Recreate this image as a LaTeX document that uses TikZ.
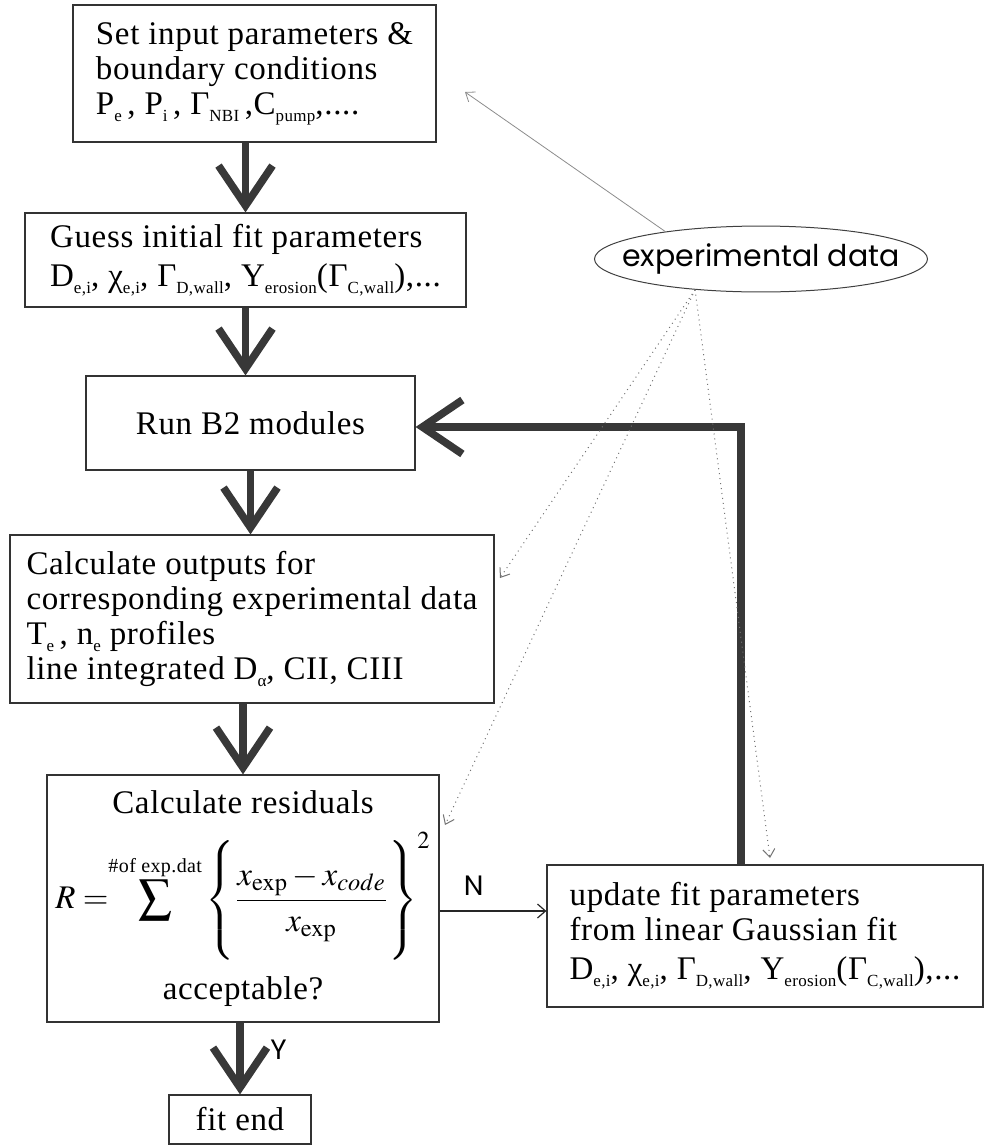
\documentclass[tikz,border=0pt]{standalone}
\usepackage{amsmath}
\usepackage{mathptmx}
\usepackage{fontspec}
\setmainfont{Liberation Serif}[LetterSpace=2]
\newfontfamily\gothic{Poppins}
\usetikzlibrary{shapes,arrows.meta}
\newcommand{\lowsub}[1]{\raisebox{-3.5pt}{\fontsize{8.5}{9}\selectfont #1}}

\begin{document}
\begin{tikzpicture}[x=0.5pt,y=0.5pt,yscale=-1,
    font=\fontsize{16.5}{17.5}\selectfont,
    box/.style={draw=black!80, line width=0.6pt, inner sep=0pt},
    flow/.style={draw=black!78, line width=3.8pt, line join=miter, -{Straight Barb[length=20pt,width=27pt]}},
    hint/.style={draw=black!55, line width=0.5pt, dotted, -{Straight Barb[length=4pt,width=6pt]}},
    tag/.style={font=\gothic\fontsize{14}{16}\selectfont}]
    \useasboundingbox (0,0) rectangle (985,1146);

    %Shape: Rectangle
    \node (input) [box, minimum width=181.5pt, minimum height=68.5pt, align=left] at (254.5,73.5)
        {Set input parameters \&\\ boundary conditions\\ P\lowsub{e}\,, P\lowsub{i}\,, Γ\lowsub{NBI}\,,C\lowsub{pump},....};

    %Shape: Rectangle
    \node (guess) [box, minimum width=220.5pt, minimum height=47pt, align=left] at (245.5,260)
        {Guess initial fit parameters\\[2pt] D\lowsub{e,i}, χ\lowsub{e,i}, Γ\lowsub{D,wall}, Y\lowsub{erosion}(Γ\lowsub{C,wall}),...};

    %Shape: Rectangle
    \node (run) [box, minimum width=164.5pt, minimum height=47pt] at (250.5,423) {Run B2 modules};

    %Shape: Rectangle
    \node (calc) [box, minimum width=242pt, minimum height=84pt, align=left] at (252,619)
        {Calculate outputs for\\ corresponding experimental data\\ T\lowsub{e}\,, n\lowsub{e} profiles\\ line integrated D\lowsub{α}, CII, CIII};

    %Shape: Rectangle
    \node (resid) [box, minimum width=196pt, minimum height=123.5pt, align=center] at (243,898.5)
        {Calculate residuals\\[8pt]
         $\displaystyle R=\!\!\sum\limits^{\text{\fontsize{10}{11}\selectfont\#of exp.dat}}\left\{\rule[-27pt]{0pt}{62pt}\frac{x_{\mathrm{exp}}-x_{code}}{x_{\mathrm{exp}}}\right\}^{2}$\\[6pt]
         acceptable?};

    %Shape: Rectangle
    \node (fitend) [box, minimum width=71pt, minimum height=24.5pt] at (240,1119.5) {fit end};

    %Shape: Rectangle
    \node (update) [box, minimum width=218pt, minimum height=71pt, align=left] at (765,936)
        {update fit parameters\\ from linear Gaussian fit\\[2pt] D\lowsub{e,i}, χ\lowsub{e,i}, Γ\lowsub{D,wall}, Y\lowsub{erosion}(Γ\lowsub{C,wall}),...};

    %Shape: Ellipse
    \node (expdata) [draw=black!75, line width=0.5pt, ellipse, minimum width=165.5pt, minimum height=32.5pt,
        inner xsep=-10.5pt, inner ysep=4pt, font=\gothic\fontsize{15}{17}\selectfont] at (761,259) {experimental data};

    \coordinate (c0) at (465,92);
    \coordinate (c1) at (500,578);
    \coordinate (c2) at (445,825);
    \coordinate (c3) at (770,858);
    \coordinate (turn) at (741,427);
    \coordinate (nstart) at ([yshift=6.25pt]resid.east);

    %Straight Lines
    \draw [flow] (input.south -| guess.north) -- (guess.north);
    \draw [flow] (guess.south) -- (guess.south |- run.north);
    \draw [flow] (run.south) -- (run.south |- calc.north);
    \draw [flow] (resid.north |- calc.south) -- (resid.north);
    \draw [flow] (fitend.north |- resid.south) -- (fitend.north) node [tag, pos=0.38, right=10pt] (lblY) {Y};
    \draw [flow] (update.north -| turn) -- (turn) -- (turn -| run.east);

    %Straight Lines
    \draw [draw=black!85, line width=0.6pt, -{Straight Barb[length=4pt,width=7pt]}] (nstart) -- (nstart -| update.west)
        node [tag, pos=0.32, above=4pt] (lblN) {N};

    %Straight Lines
    \draw [draw=black!45, line width=0.4pt, -{Straight Barb[length=4pt,width=6pt]}] (expdata.164) -- (c0);
    \draw [hint] (expdata.205) -- (c1);
    \draw [hint] (expdata.205) -- (c2);
    \draw [hint] (expdata.205) -- (c3);

\end{tikzpicture}
\end{document}
